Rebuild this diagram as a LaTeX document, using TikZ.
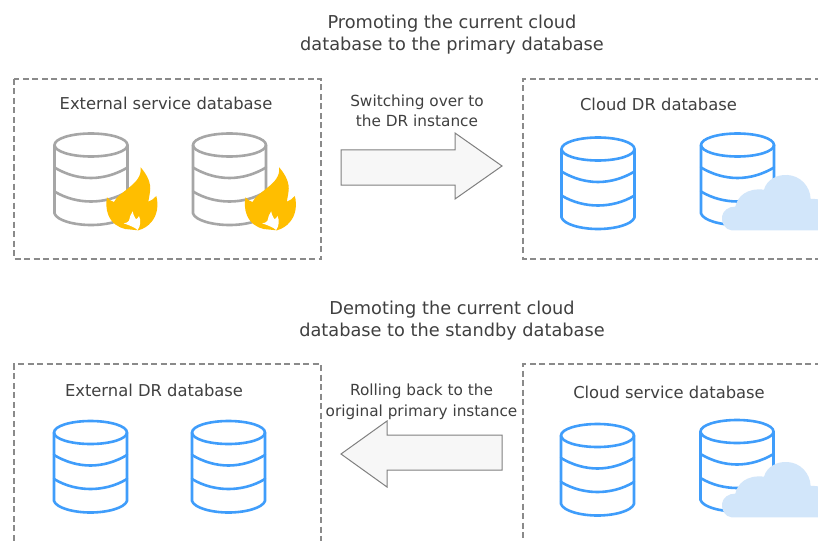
\documentclass[tikz,border=0pt]{standalone}
\usepackage{fontspec}
\setmainfont{DejaVu Sans}
\definecolor{txt}{HTML}{404040}
\definecolor{dbgray}{HTML}{A6A6A6}
\definecolor{dbblue}{HTML}{3F9DFB}
\definecolor{flame}{HTML}{FFBE00}
\definecolor{cloudc}{HTML}{D2E6FA}
\definecolor{dashc}{HTML}{8A8A8A}
\tikzset{
  lab/.style={text=txt,font=\fontsize{16.35}{22}\selectfont,align=center,inner sep=0pt},
  headlab/.style={lab,font=\fontsize{17.75}{22}\selectfont},
  caplab/.style={lab,font=\fontsize{15.3}{20.5}\selectfont},
  dashbox/.style={draw=dashc,line width=1.3pt,dash pattern=on 6pt off 3.5pt},
  dbline/.style={line width=2.6pt,line join=round,line cap=round},
  blockarrow/.style={draw=black!50,line width=1pt,fill=black!3,line join=miter}
}
\newcommand{\dbcyl}[3]{%
  \begin{scope}[shift={(#1,#2)}]
    \draw[dbline,draw=#3] (37,11.5) ellipse [x radius=36.5,y radius=11.5];
    \draw[dbline,draw=#3] (0.5,11.5) -- (0.5,80) .. controls (3,87) and (20,91.5) .. (37,91.5) .. controls (54,91.5) and (71,87) .. (73.5,80) -- (73.5,11.5);
    \draw[dbline,draw=#3] (0.5,34) .. controls (12,41) and (25,44.5) .. (37,44.5) .. controls (49,44.5) and (62,41) .. (73.5,34);
    \draw[dbline,draw=#3] (0.5,58) .. controls (12,65) and (25,68) .. (37,68) .. controls (49,68) and (62,65) .. (73.5,58);
  \end{scope}}
\newcommand{\fireicon}[2]{%
  \begin{scope}[shift={(#1,#2)},x=0.3333pt,y=-0.3333pt]
    \fill[flame] (122,22) .. controls (142,45) and (154,70) .. (150,95) .. controls (148,110) and (146,118) .. (145,125)
      .. controls (154,122) and (162,116) .. (169,108) .. controls (176,135) and (172,165) .. (155,185)
      .. controls (145,198) and (130,207) .. (115,211) -- (75,207)
      .. controls (55,202) and (35,190) .. (25,165) .. controls (18,148) and (18,128) .. (21,112)
      .. controls (28,120) and (35,124) .. (42,126) .. controls (50,108) and (70,98) .. (88,82)
      .. controls (108,66) and (125,48) .. (122,22) -- cycle;
    \fill[white] (71,190) .. controls (78,190) and (84,187) .. (87,182) .. controls (88,172) and (93,162) .. (98,154)
      .. controls (100,165) and (104,172) .. (108,178) .. controls (112,176) and (115,172) .. (117,168)
      .. controls (123,180) and (122,198) .. (113,210) .. controls (105,203) and (92,197) .. (71,190) -- cycle;
  \end{scope}}
\newcommand{\cloudicon}[2]{%
  \begin{scope}[shift={(#1,#2)},x=0.3333pt,y=-0.3333pt]
    \fill[cloudc] (65,196) .. controls (45,194) and (34,175) .. (36,155) .. controls (38,138) and (55,124) .. (76,125)
      .. controls (82,95) and (110,68) .. (162,74) .. controls (170,45) and (200,28) .. (232,30)
      .. controls (270,32) and (300,62) .. (302,102) .. controls (330,100) and (360,110) .. (370,140)
      .. controls (372,175) and (360,196) .. (335,196) -- cycle;
  \end{scope}}
\begin{document}
\begin{tikzpicture}[x=1pt,y=-1pt]
  \useasboundingbox (0,0) rectangle (818,540);
  \clip (0,0) rectangle (818,540);
  \fill[white] (0,0) rectangle (818,540);

  % dashed frames
  \draw[dashbox] (14,79) rectangle (321,259);
  \draw[dashbox] (830,79) -- (523,79) -- (523,259) -- (830,259);
  \draw[dashbox] (14,550) -- (14,364) -- (321,364) -- (321,550);
  \draw[dashbox] (830,364) -- (523,364) -- (523,550);

  % headings
  \node[headlab] (headtop) at (452,35) {Promoting the current cloud\\database to the primary database};
  \node[headlab] (headbot) at (452,321) {Demoting the current cloud\\database to the standby database};

  % box titles
  \node[lab] (t1) at (166,103.5) {External service database};
  \node[lab] (t2) at (658.5,104.5) {Cloud DR database};
  \node[lab] (t3) at (154,390.5) {External DR database};
  \node[lab] (t4) at (669,392) {Cloud service database};

  % arrow captions
  \node[caplab] (c1) at (417,111) {Switching over to\\the DR instance};
  \node[caplab] (c2) at (421.5,402) {Rolling back to the\\original primary instance};

  % block arrows
  \draw[blockarrow] (341,150) -- (455,150) -- (455,133) -- (502,166) -- (455,199) -- (455,185) -- (341,185) -- cycle;
  \draw[blockarrow] (502,435) -- (387,435) -- (387,421) -- (341,454) -- (387,487) -- (387,470) -- (502,470) -- cycle;

  % databases
  \dbcyl{54}{133.5}{dbgray}
  \dbcyl{192.5}{133.5}{dbgray}
  \fireicon{100}{160}
  \fireicon{238.5}{160}

  \dbcyl{561}{137.5}{dbblue}
  \dbcyl{700.5}{133.5}{dbblue}
  \cloudicon{710}{165}

  \dbcyl{53.5}{421}{dbblue}
  \dbcyl{191.5}{421}{dbblue}

  \dbcyl{560.5}{424}{dbblue}
  \dbcyl{700}{420}{dbblue}
  \cloudicon{710}{452}
\end{tikzpicture}
\end{document}
